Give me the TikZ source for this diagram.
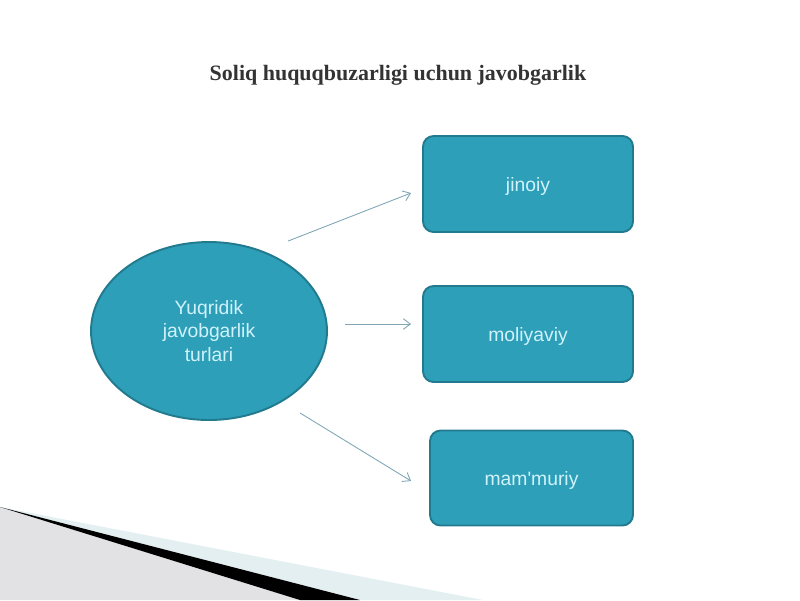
\documentclass[tikz,border=0pt]{standalone}
\usepackage{fontspec}
\setmainfont{Liberation Serif}
\newfontfamily\arial{Liberation Sans}
\usetikzlibrary{arrows.meta, shapes.geometric}

\definecolor{tealbox}{HTML}{2E9FB8}
\definecolor{tealedge}{HTML}{217A8E}
\definecolor{boxtext}{HTML}{D0F2FB}
\definecolor{arrowcol}{HTML}{7FA6B6}
\definecolor{cornergray}{HTML}{E2E2E4}
\definecolor{cornerblue}{HTML}{E4EFF1}

\tikzset{
	kind/.style={draw=tealedge, line width=1.1pt, fill=tealbox, rounded corners=6pt,
		text=boxtext, font=\arial\fontsize{11}{13.6}\selectfont, align=center, inner sep=0pt},
	arr/.style={draw=arrowcol, line width=0.5pt, -{Straight Barb[length=4pt,width=6pt]}}
}

\begin{document}
\begin{tikzpicture}[x=0.02cm, y=-0.02cm]
		\useasboundingbox (0,0) rectangle (800,600);

		% corner decoration
		\fill[cornerblue] (0,507) -- (483,600) -- (360,600) -- cycle;
		\fill[cornergray] (0,507) -- (300,600) -- (0,600) -- cycle;
		\fill[black] (0,507) -- (360,600) -- (300,600) -- cycle;

		\node[font=\bfseries\fontsize{12.5}{15}\selectfont, text=black!80] (title) at (398,75) {Soliq huquqbuzarligi uchun javobgarlik};

		\node[kind, ellipse, minimum width=4.72cm, minimum height=3.56cm] (yur) at (209,331) {Yuqridik\\javobgarlik\\turlari};

		\node[kind, text height=11pt, text depth=2.5pt, minimum width=4.2cm, minimum height=1.92cm] (jin) at (528,184) {jinoiy};
		\node[kind, text height=11pt, text depth=2.5pt, minimum width=4.2cm, minimum height=1.92cm] (mol) at (528,334) {moliyaviy};
		\node[kind, text height=11pt, text depth=2.5pt, minimum width=4.06cm, minimum height=1.9cm] (mam) at (531.5,478) {mam'muriy};

		\draw[arr] ([shift={(79,0)}]yur.north) -- ([shift={(-11,9)}]jin.west);
		\draw[arr] ([shift={(17,-7)}]yur.east) -- ([shift={(-11,-10)}]mol.west);
		\draw[arr] ([shift={(91,-8)}]yur.south) -- ([shift={(-18,3)}]mam.west);
	\end{tikzpicture}
\end{document}
